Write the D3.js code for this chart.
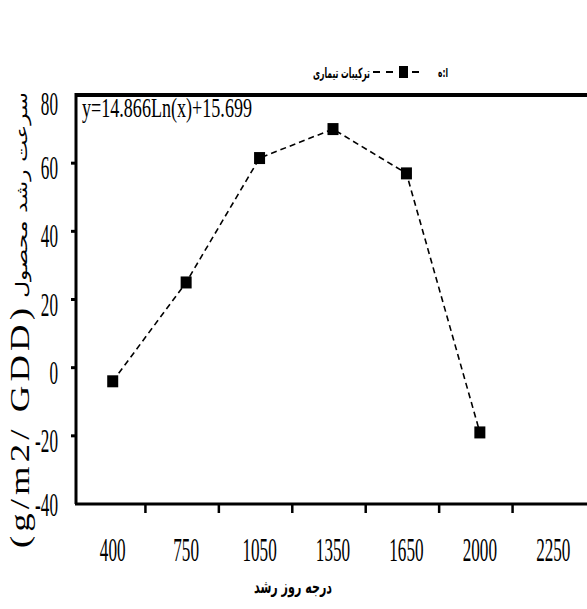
<!DOCTYPE html>
<html>
<head>
<meta charset="utf-8">
<script src="https://cdn.jsdelivr.net/npm/d3@7"></script>
<style>
  body { margin: 0; background: #fff; }
  svg { display: block; }
  text { font-family: "Liberation Serif", "DejaVu Serif", serif; fill: #000; }
</style>
</head>
<body>
<div id="chart"></div>
<script>
// categories on the x axis (growing degree days)
var xLabels = ['400', '750', '1050', '1350', '1650', '2000', '2250'];
// measured points
var pointCats = ['400', '750', '1050', '1350', '1650', '2000'];
var pointVals = [-4, 25, 61.5, 70, 57, -19];
var yTicks = [80, 60, 40, 20, 0, -20, -40];

var width = 587, height = 609,
    margin = {top: 95, right: -3, bottom: 105, left: 76},
    svg = d3.select('#chart').append('svg')
      .attr('width', width)
      .attr('height', height);

var x = d3.scaleBand().domain(xLabels).range([margin.left, width - margin.right]),
    y = d3.scaleLinear().domain([-40, 80]).range([height - margin.bottom, margin.top]);

var x0 = margin.left,
    y0 = y(-40), y1 = y(80);

// frame (no right border visible)
svg.append('line').attr('x1', x0 - 1).attr('x2', width).attr('y1', y1).attr('y2', y1)
  .attr('stroke', '#000').attr('stroke-width', 4);
svg.append('line').attr('x1', x0).attr('x2', x0).attr('y1', y1 - 2).attr('y2', y0)
  .attr('stroke', '#000').attr('stroke-width', 3);
svg.append('line').attr('x1', x0 - 1).attr('x2', width).attr('y1', y0).attr('y2', y0)
  .attr('stroke', '#000').attr('stroke-width', 3);

// y ticks + labels
yTicks.forEach(function (t) {
  if (t !== 80 && t !== -40) {
    svg.append('line').attr('x1', x0 - 5).attr('x2', x0).attr('y1', y(t)).attr('y2', y(t))
      .attr('stroke', '#000').attr('stroke-width', 3);
  }
  var dy = t === 80 ? 20 : (t === -40 ? 12 : 16);
  svg.append('text')
    .attr('transform', 'translate(' + (x0 - 18) + ',' + (y(t) + dy) + ') scale(0.52,1)')
    .attr('text-anchor', 'end')
    .style('font-size', '33px')
    .text(t);
});

// x ticks sit on category boundaries, labels in the middle
xLabels.slice(1).forEach(function (c) {
  svg.append('line').attr('x1', x(c) - 4).attr('x2', x(c) - 4).attr('y1', y0).attr('y2', y0 + 9)
    .attr('stroke', '#000').attr('stroke-width', 2.5);
});
xLabels.forEach(function (c) {
  svg.append('text')
    .attr('transform', 'translate(' + (x(c) + x.bandwidth() / 2) + ',' + (y0 + 57) + ') scale(0.52,1)')
    .attr('text-anchor', 'middle')
    .style('font-size', '33px')
    .text(c);
});

// dashed line + markers
var pts = pointCats.map(function (c, i) { return {c: c, v: pointVals[i]}; });
var line = d3.line()
  .x(function (d) { return x(d.c) + x.bandwidth() / 2; })
  .y(function (d) { return y(d.v); });

svg.append('path').datum(pts)
  .attr('d', line)
  .attr('fill', 'none')
  .attr('stroke', '#000')
  .attr('stroke-width', 1.6)
  .attr('stroke-dasharray', '6,4');

svg.selectAll('.pt').data(pts).enter().append('rect')
  .attr('class', 'pt')
  .attr('x', function (d) { return x(d.c) + x.bandwidth() / 2 - 5.5; })
  .attr('y', function (d) { return y(d.v) - 6; })
  .attr('width', 11)
  .attr('height', 12)
  .attr('fill', '#000');

// equation
svg.append('text')
  .attr('x', x0 + 6).attr('y', y1 + 22)
  .attr('textLength', 170)
  .attr('lengthAdjust', 'spacingAndGlyphs')
  .style('font-size', '28px')
  .text('y=14.866Ln(x)+15.699');

// legend
var ly = 72;
svg.append('line').attr('x1', 373).attr('x2', 419).attr('y1', ly).attr('y2', ly)
  .attr('stroke', '#000').attr('stroke-width', 1.8).attr('stroke-dasharray', '7,6');
svg.append('rect').attr('x', 399).attr('y', ly - 6).attr('width', 9).attr('height', 12).attr('fill', '#000');
svg.append('text')
  .attr('x', 313).attr('y', ly + 6)
  .attr('textLength', 57)
  .attr('lengthAdjust', 'spacingAndGlyphs')
  .style('font-family', '"DejaVu Sans", sans-serif')
  .style('font-weight', 'bold')
  .style('font-size', '14px')
  .text('ترکیبات تیماری');
svg.append('text')
  .attr('x', 438).attr('y', ly + 5)
  .attr('textLength', 10)
  .attr('lengthAdjust', 'spacingAndGlyphs')
  .style('font-family', '"DejaVu Sans", sans-serif')
  .style('font-weight', 'bold')
  .style('font-size', '12px')
  .text('ا:ه');

// axis titles
svg.append('text')
  .attr('x', 254).attr('y', 593)
  .attr('textLength', 78)
  .attr('lengthAdjust', 'spacingAndGlyphs')
  .style('font-family', '"DejaVu Sans", sans-serif')
  .style('font-weight', 'bold')
  .style('font-size', '18px')
  .text('درجه روز رشد');

// y title: persian part on top, unit part below
svg.append('text')
  .attr('transform', 'translate(27,298) rotate(-90)')
  .attr('textLength', 206)
  .attr('lengthAdjust', 'spacingAndGlyphs')
  .style('font-family', '"DejaVu Sans", sans-serif')
  .style('font-size', '16px')
  .text('سرعت رشد محصول');
svg.append('text')
  .attr('transform', 'translate(29,548) rotate(-90)')
  .attr('textLength', 244)
  .attr('lengthAdjust', 'spacingAndGlyphs')
  .style('font-size', '27px')
  .style('letter-spacing', '3px')
  .text('(g/m2/ GDD)');
</script>
</body>
</html>
